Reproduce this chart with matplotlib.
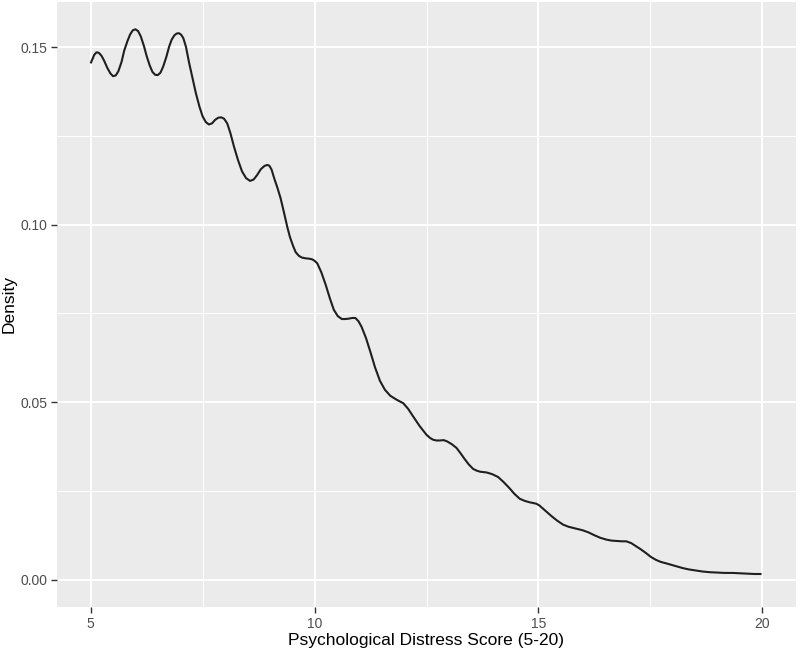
import matplotlib
matplotlib.use("Agg")
import matplotlib.pyplot as plt
from matplotlib.ticker import MultipleLocator

plt.rcParams['font.family'] = ['Liberation Sans', 'DejaVu Sans']

score = [5.00, 5.04, 5.08, 5.13, 5.18, 5.24, 5.30, 5.37, 5.44, 5.50, 5.56, 5.62, 5.69,
         5.75, 5.82, 5.88, 5.94, 6.00, 6.06, 6.12, 6.19, 6.25, 6.32, 6.38, 6.44, 6.50,
         6.56, 6.62, 6.69, 6.75, 6.81, 6.87, 6.92, 6.97, 7.02, 7.07, 7.13, 7.20, 7.28,
         7.35, 7.43, 7.50, 7.57, 7.64, 7.71, 7.78, 7.85, 7.92, 7.98, 8.05, 8.12, 8.20,
         8.29, 8.38, 8.47, 8.56, 8.64, 8.72, 8.80, 8.88, 8.94, 8.99, 9.04, 9.10, 9.17,
         9.24, 9.31, 9.39, 9.45, 9.52, 9.58, 9.65, 9.72, 9.80, 9.88, 9.95, 10.00, 10.06,
         10.15, 10.25, 10.34, 10.43, 10.52, 10.61, 10.68, 10.76, 10.84, 10.91, 10.98,
         11.05, 11.15, 11.25, 11.35, 11.46, 11.57, 11.69, 11.83, 11.98, 12.09, 12.20,
         12.35, 12.50, 12.58, 12.65, 12.72, 12.80, 12.88, 12.95, 13.06, 13.17, 13.26,
         13.35, 13.44, 13.54, 13.62, 13.70, 13.77, 13.84, 13.97, 14.10, 14.22, 14.35,
         14.46, 14.58, 14.69, 14.80, 14.88, 14.95, 15.02, 15.10, 15.20, 15.30, 15.42,
         15.55, 15.67, 15.80, 15.90, 15.99, 16.12, 16.25, 16.38, 16.51, 16.63, 16.75,
         16.86, 16.96, 17.07, 17.18, 17.29, 17.40, 17.51, 17.62, 17.73, 17.85, 17.96,
         18.07, 18.21, 18.35, 18.50, 18.66, 18.83, 19.00, 19.16, 19.33, 19.49, 19.65,
         19.82, 19.98]
density = [0.1454, 0.1466, 0.1478, 0.1485, 0.1484, 0.1476, 0.1462, 0.1442, 0.1426,
           0.1418, 0.1420, 0.1432, 0.1458, 0.1490, 0.1516, 0.1535, 0.1547, 0.1550,
           0.1545, 0.1530, 0.1503, 0.1475, 0.1448, 0.1430, 0.1422, 0.1421, 0.1428,
           0.1445, 0.1472, 0.1500, 0.1521, 0.1533, 0.1538, 0.1539, 0.1535, 0.1525,
           0.1500, 0.1455, 0.1410, 0.1370, 0.1332, 0.1305, 0.1289, 0.1282, 0.1285,
           0.1295, 0.1301, 0.1302, 0.1298, 0.1285, 0.1258, 0.1220, 0.1182, 0.1150,
           0.1131, 0.1123, 0.1127, 0.1140, 0.1156, 0.1165, 0.1168, 0.1166, 0.1155,
           0.1130, 0.1104, 0.1075, 0.1038, 0.0994, 0.0965, 0.0940, 0.0922, 0.0912,
           0.0907, 0.0905, 0.0904, 0.0902, 0.0898, 0.0891, 0.0866, 0.0830, 0.0793,
           0.0760, 0.0742, 0.0734, 0.0734, 0.0735, 0.0737, 0.0737, 0.0728, 0.0712,
           0.0680, 0.0640, 0.0598, 0.0560, 0.0535, 0.0518, 0.0507, 0.0497, 0.0481,
           0.0460, 0.0432, 0.0408, 0.0399, 0.0394, 0.0392, 0.0392, 0.0393, 0.0390,
           0.0382, 0.0371, 0.0356, 0.0340, 0.0325, 0.0312, 0.0307, 0.0304, 0.0303,
           0.0302, 0.0297, 0.0289, 0.0275, 0.0258, 0.0242, 0.0228, 0.0222, 0.0218,
           0.0216, 0.0214, 0.0209, 0.0200, 0.0189, 0.0178, 0.0166, 0.0155, 0.0149,
           0.0145, 0.0142, 0.0139, 0.0133, 0.0125, 0.0118, 0.0113, 0.0110, 0.0109,
           0.0108, 0.0108, 0.0103, 0.0094, 0.0085, 0.0075, 0.0064, 0.0056, 0.0050,
           0.0046, 0.0042, 0.0038, 0.0033, 0.0029, 0.0026, 0.0023, 0.0021, 0.0020,
           0.0019, 0.0019, 0.0018, 0.0017, 0.0016, 0.0016]

x_ticks = [5, 10, 15, 20]
y_ticks = [0.00, 0.05, 0.10, 0.15]
y_tick_labels = ["0.00", "0.05", "0.10", "0.15"]

fig = plt.figure(figsize=(8.0, 6.52), dpi=100)
ax = fig.add_axes([0.0713, 0.069, 0.9237, 0.928])
ax.set_facecolor('#EBEBEB')

ax.plot(score, density, color='#1f1f1f', lw=1.5, zorder=3,
        solid_joinstyle='round', solid_capstyle='butt')

ax.set_xlim(4.25, 20.75)
ax.set_ylim(-0.0077, 0.1627)
ax.set_xticks(x_ticks)
ax.set_xticklabels([str(t) for t in x_ticks])
ax.set_yticks(y_ticks)
ax.set_yticklabels(y_tick_labels)
ax.xaxis.set_minor_locator(MultipleLocator(2.5))
ax.yaxis.set_minor_locator(MultipleLocator(0.025))

ax.grid(which='major', color='white', lw=1.4, zorder=0)
ax.grid(which='minor', color='white', lw=0.7, zorder=0)
ax.set_axisbelow(True)
for s in ax.spines.values():
    s.set_visible(False)

ax.tick_params(which='major', length=4, width=1.0, color='#333333',
               labelcolor='#4D4D4D', labelsize=10, pad=3)
ax.tick_params(which='minor', length=0)

ax.set_xlabel('Psychological Distress Score (5-20)', fontsize=12.5, color='black')
ax.set_ylabel('Density', fontsize=12.5, color='black')
ax.xaxis.set_label_coords(0.533, 0.0184, transform=fig.transFigure)
ax.yaxis.set_label_coords(0.0115, 0.534, transform=fig.transFigure)
ax.xaxis.label.set_va('center')
ax.yaxis.label.set_va('center')

fig.savefig('out.png', dpi=100)
